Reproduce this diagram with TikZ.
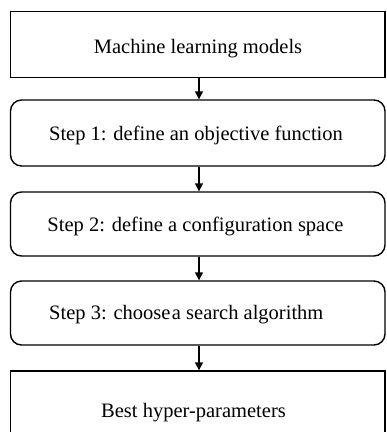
\documentclass[tikz,border=0pt]{standalone}
\usepackage{fontspec}
\setmainfont{Liberation Serif}
\usetikzlibrary{arrows.meta}
\begin{document}
\begin{tikzpicture}[x=1pt,y=-1pt,
  plainbox/.style={draw, line width=1.4pt, minimum width=374.5pt, inner sep=0pt},
  roundbox/.style={plainbox, rounded corners=11pt},
  caption/.style={inner sep=0pt, font=\fontsize{20.5}{24}\selectfont},
  flow/.style={line width=1.5pt, -{Triangle[length=8pt,width=8pt]}}]
  \useasboundingbox (0,0) rectangle (387,432);
  \begin{scope}
    \clip (0,0) rectangle (387,432);
    % boxes of the pipeline
    \node[plainbox, minimum height=66pt] (ml) at (197.75,44.7) {};
    \node[roundbox, minimum height=66pt] (s1) at (197.75,133) {};
    \node[roundbox, minimum height=64pt] (s2) at (197.75,224) {};
    \node[roundbox, minimum height=64pt] (s3) at (197.75,313) {};
    \node[plainbox, minimum height=82pt] (best) at (197.75,412) {};
  \end{scope}
  % box labels
  \node[caption] (tml) at (198,49) {Machine learning models};
  \node[caption] (ts1) at (196,135) {Step 1: define an objective function};
  \node[caption] (ts2) at (195.5,226) {Step 2: define a configuration space};
  \node[caption, anchor=west] (ts3) at (49,315) {Step 3: choose\hspace{1.5pt}a search algorithm};
  \node[caption] (tbest) at (193.5,413) {Best hyper-parameters};
  % connectors
  \draw[flow] (ml.south -| 199,0) -- (s1.north -| 199,0);
  \draw[flow] (s1.south -| 199,0) -- (s2.north -| 199,0);
  \draw[flow] (s2.south -| 199,0) -- (s3.north -| 199,0);
  \draw[flow] (s3.south -| 199,0) -- (best.north -| 199,0);
\end{tikzpicture}
\end{document}
